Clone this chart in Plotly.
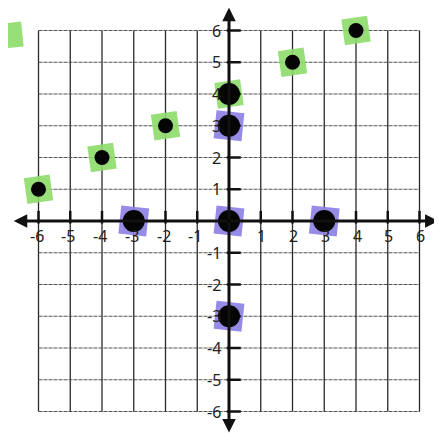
import plotly.graph_objects as go

# ---- data ----
green_x = [-6, -4, -2, 0, 2, 4]
green_y = [1, 2, 3, 4, 5, 6]
purple_x = [-3, 0, 3, 0, 0]
purple_y = [0, 0, 0, 3, -3]
big_dot_x = [-3, 0, 3, 0, 0, 0]
big_dot_y = [0, 0, 0, 3, -3, 4]
small_dot_x = [-6, -4, -2, 2, 4]
small_dot_y = [1, 2, 3, 5, 6]
stray_x = [-6.9]
stray_y = [5.85]
x_ticks = [-6, -5, -4, -3, -2, -1, 1, 2, 3, 4, 5, 6]
y_ticks = [6, 5, 4, 3, 2, 1, -1, -2, -3, -4, -5, -6]
grid_vals = [-6, -5, -4, -3, -2, -1, 0, 1, 2, 3, 4, 5, 6]

OFF = 8  # page body margin
W, H = 442 - OFF, 433 - OFF
x0px, y0px, step = 229 - OFF, 221 - OFF, 31.75
xr = [-x0px / step, (W - x0px) / step]
yr = [(y0px - H) / step, y0px / step]

fig = go.Figure()

shapes = []
for v in grid_vals:
    shapes.append(dict(type="line", xref="x", yref="y", x0=v, x1=v, y0=-6, y1=6,
                       line=dict(color="#2a2a2a", width=1.3), layer="below"))
    shapes.append(dict(type="line", xref="x", yref="y", x0=-6, x1=6, y0=v, y1=v,
                       line=dict(color="#555555", width=1.2, dash="4px,1px"), layer="below"))

# green highlight squares
fig.add_trace(go.Scatter(x=green_x, y=green_y, mode="markers",
                         marker=dict(symbol="square", size=26, color="#8ddc6c", opacity=0.9,
                                     angle=-8, line=dict(width=0)), hoverinfo="skip"))
fig.add_trace(go.Scatter(x=stray_x, y=stray_y, mode="markers",
                         marker=dict(symbol="square", size=25, color="#8ddc6c", opacity=0.9,
                                     angle=-6, line=dict(width=0)), hoverinfo="skip"))
# purple highlight squares
fig.add_trace(go.Scatter(x=purple_x, y=purple_y, mode="markers",
                         marker=dict(symbol="square", size=28, color="#8b80e4", opacity=0.9,
                                     angle=6, line=dict(width=0)), hoverinfo="skip"))

# axis tick marks
fig.add_trace(go.Scatter(x=x_ticks, y=[0.12] * len(x_ticks), mode="markers",
                         marker=dict(symbol="line-ns-open", size=9, color="#111",
                                     line=dict(color="#111", width=2.5)),
                         hoverinfo="skip"))
fig.add_trace(go.Scatter(x=[0.15] * len(y_ticks), y=y_ticks, mode="markers",
                         marker=dict(symbol="line-ew-open", size=10, color="#111",
                                     line=dict(color="#111", width=2.5)),
                         hoverinfo="skip"))

# black dots
fig.add_trace(go.Scatter(x=small_dot_x, y=small_dot_y, mode="markers",
                         marker=dict(size=15, color="#050505", line=dict(width=0)), hoverinfo="skip"))
fig.add_trace(go.Scatter(x=big_dot_x, y=big_dot_y, mode="markers",
                         marker=dict(size=22, color="#050505", line=dict(width=0)), hoverinfo="skip"))

annotations = []
# axes with arrows
ax_kw = dict(xref="x", yref="y", axref="x", ayref="y", showarrow=True, arrowhead=2,
             arrowsize=0.9, arrowwidth=3, arrowcolor="#111", text="")
annotations.append(dict(x=6.6, y=0, ax=0, ay=0, **ax_kw))
annotations.append(dict(x=-6.78, y=0, ax=0, ay=0, **ax_kw))
annotations.append(dict(x=0, y=6.72, ax=0, ay=0, **ax_kw))
annotations.append(dict(x=0, y=-6.66, ax=0, ay=0, **ax_kw))

font = dict(family="Noto Sans, DejaVu Sans, sans-serif", size=16, color="#222")
for v in x_ticks:
    annotations.append(dict(x=v, y=-0.47, xref="x", yref="y", text=str(v), showarrow=False,
                            font=font, xanchor="center", yanchor="middle",
                            xshift=(-2 if v < 0 else 1)))
for v in y_ticks:
    annotations.append(dict(x=-0.2, y=v, xref="x", yref="y", text=str(v), showarrow=False,
                            font=font, xanchor="right", yanchor="middle"))

fig.update_layout(
    width=W, height=H, margin=dict(l=0, r=0, t=0, b=0),
    paper_bgcolor="white", plot_bgcolor="white", showlegend=False,
    xaxis=dict(range=xr, showgrid=False, zeroline=False, showticklabels=False, ticks="", fixedrange=True),
    yaxis=dict(range=yr, showgrid=False, zeroline=False, showticklabels=False, ticks="", fixedrange=True),
    shapes=shapes, annotations=annotations,
)

fig.write_html("out.html")
